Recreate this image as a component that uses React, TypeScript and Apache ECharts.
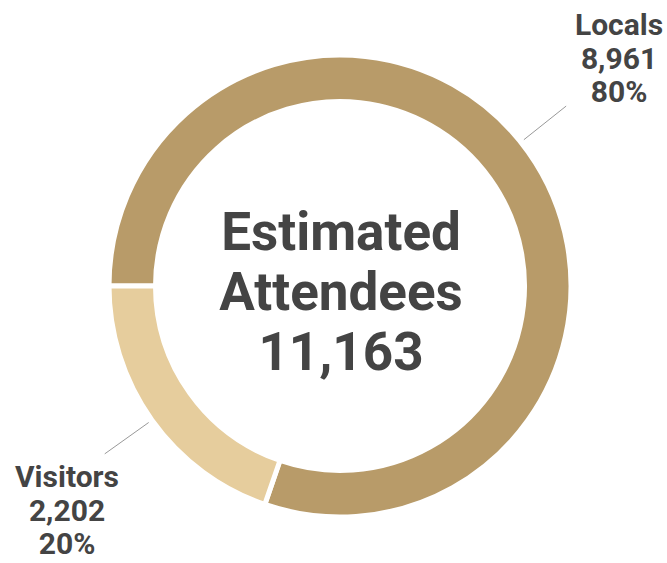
import React, { useEffect, useRef } from "react";
import * as echarts from "echarts";

const categories = ["Locals", "Visitors"];
const values = [8961, 2202];
const percents = ["80%", "20%"];
const totalLabel = ["Estimated", "Attendees", "11,163"];
const colors = ["#b89b69", "#e6cd9d"];

const fmt = (n: number) => n.toLocaleString("en-US");

const CX = 340;
const CY = 286;

export default function App() {
  const ref = useRef<HTMLDivElement>(null);
  useEffect(() => {
    const chart = echarts.init(ref.current!, null, { renderer: "svg" });
    const data = categories.map((c, i) => ({
      name: c,
      value: values[i],
      itemStyle: { color: colors[i] },
    }));
    const labelPos = [
      { x: 619, y: 58 },
      { x: 67, y: 510 },
    ];
    const angleShift = [-3, 0];
    chart.setOption({
      animation: false,
      backgroundColor: "#ffffff",
      graphic: [
        {
          type: "text",
          x: 341,
          y: 292,
          style: {
            text: totalLabel.join("\n"),
            fontFamily: "Roboto",
            fontWeight: "bold",
            fontSize: 53,
            lineHeight: 60,
            fill: "#444444",
            align: "center",
            verticalAlign: "middle",
          },
        },
      ],
      series: [
        {
          type: "pie",
          center: [CX, CY],
          radius: [184.5, 231],
          startAngle: 180,
          clockwise: true,
          itemStyle: { borderColor: "#ffffff", borderWidth: 5 },
          emphasis: { disabled: true },
          data,
          label: {
            show: true,
            position: "outside",
            overflow: "none",
            formatter: (p: any) =>
              `${p.name}\n${fmt(p.value)}\n${percents[p.dataIndex]}`,
            fontFamily: "Roboto",
            fontWeight: "bold",
            fontSize: 30,
            lineHeight: 33.5,
            color: "#444444",
            align: "center",
          },
          labelLine: {
            show: true,
            length: 40,
            length2: 0,
            lineStyle: { color: "#999999", width: 1 },
          },
          labelLayout: (p: any) => {
            const pts = p.labelLinePoints;
            const pos = labelPos[p.dataIndex];
            if (!pts) return { x: pos.x, y: pos.y, align: "center", verticalAlign: "middle" };
            const a = pts[0];
            const r = Math.hypot(a[0] - CX, a[1] - CY);
            const ang =
              Math.atan2(a[1] - CY, a[0] - CX) +
              (angleShift[p.dataIndex] * Math.PI) / 180;
            const dx = Math.cos(ang);
            const dy = Math.sin(ang);
            const p1 = [CX + (r + 4) * dx, CY + (r + 4) * dy];
            const p2 = [CX + (r + 58) * dx, CY + (r + 58) * dy];
            return {
              x: pos.x,
              y: pos.y,
              align: "center",
              verticalAlign: "middle",
              labelLinePoints: [p1, p2, p2],
            };
          },
        },
      ],
    });
    return () => chart.dispose();
  }, []);
  return (
    <div
      ref={ref}
      style={{ position: "absolute", left: 0, top: 0, width: 667, height: 563 }}
    />
  );
}
